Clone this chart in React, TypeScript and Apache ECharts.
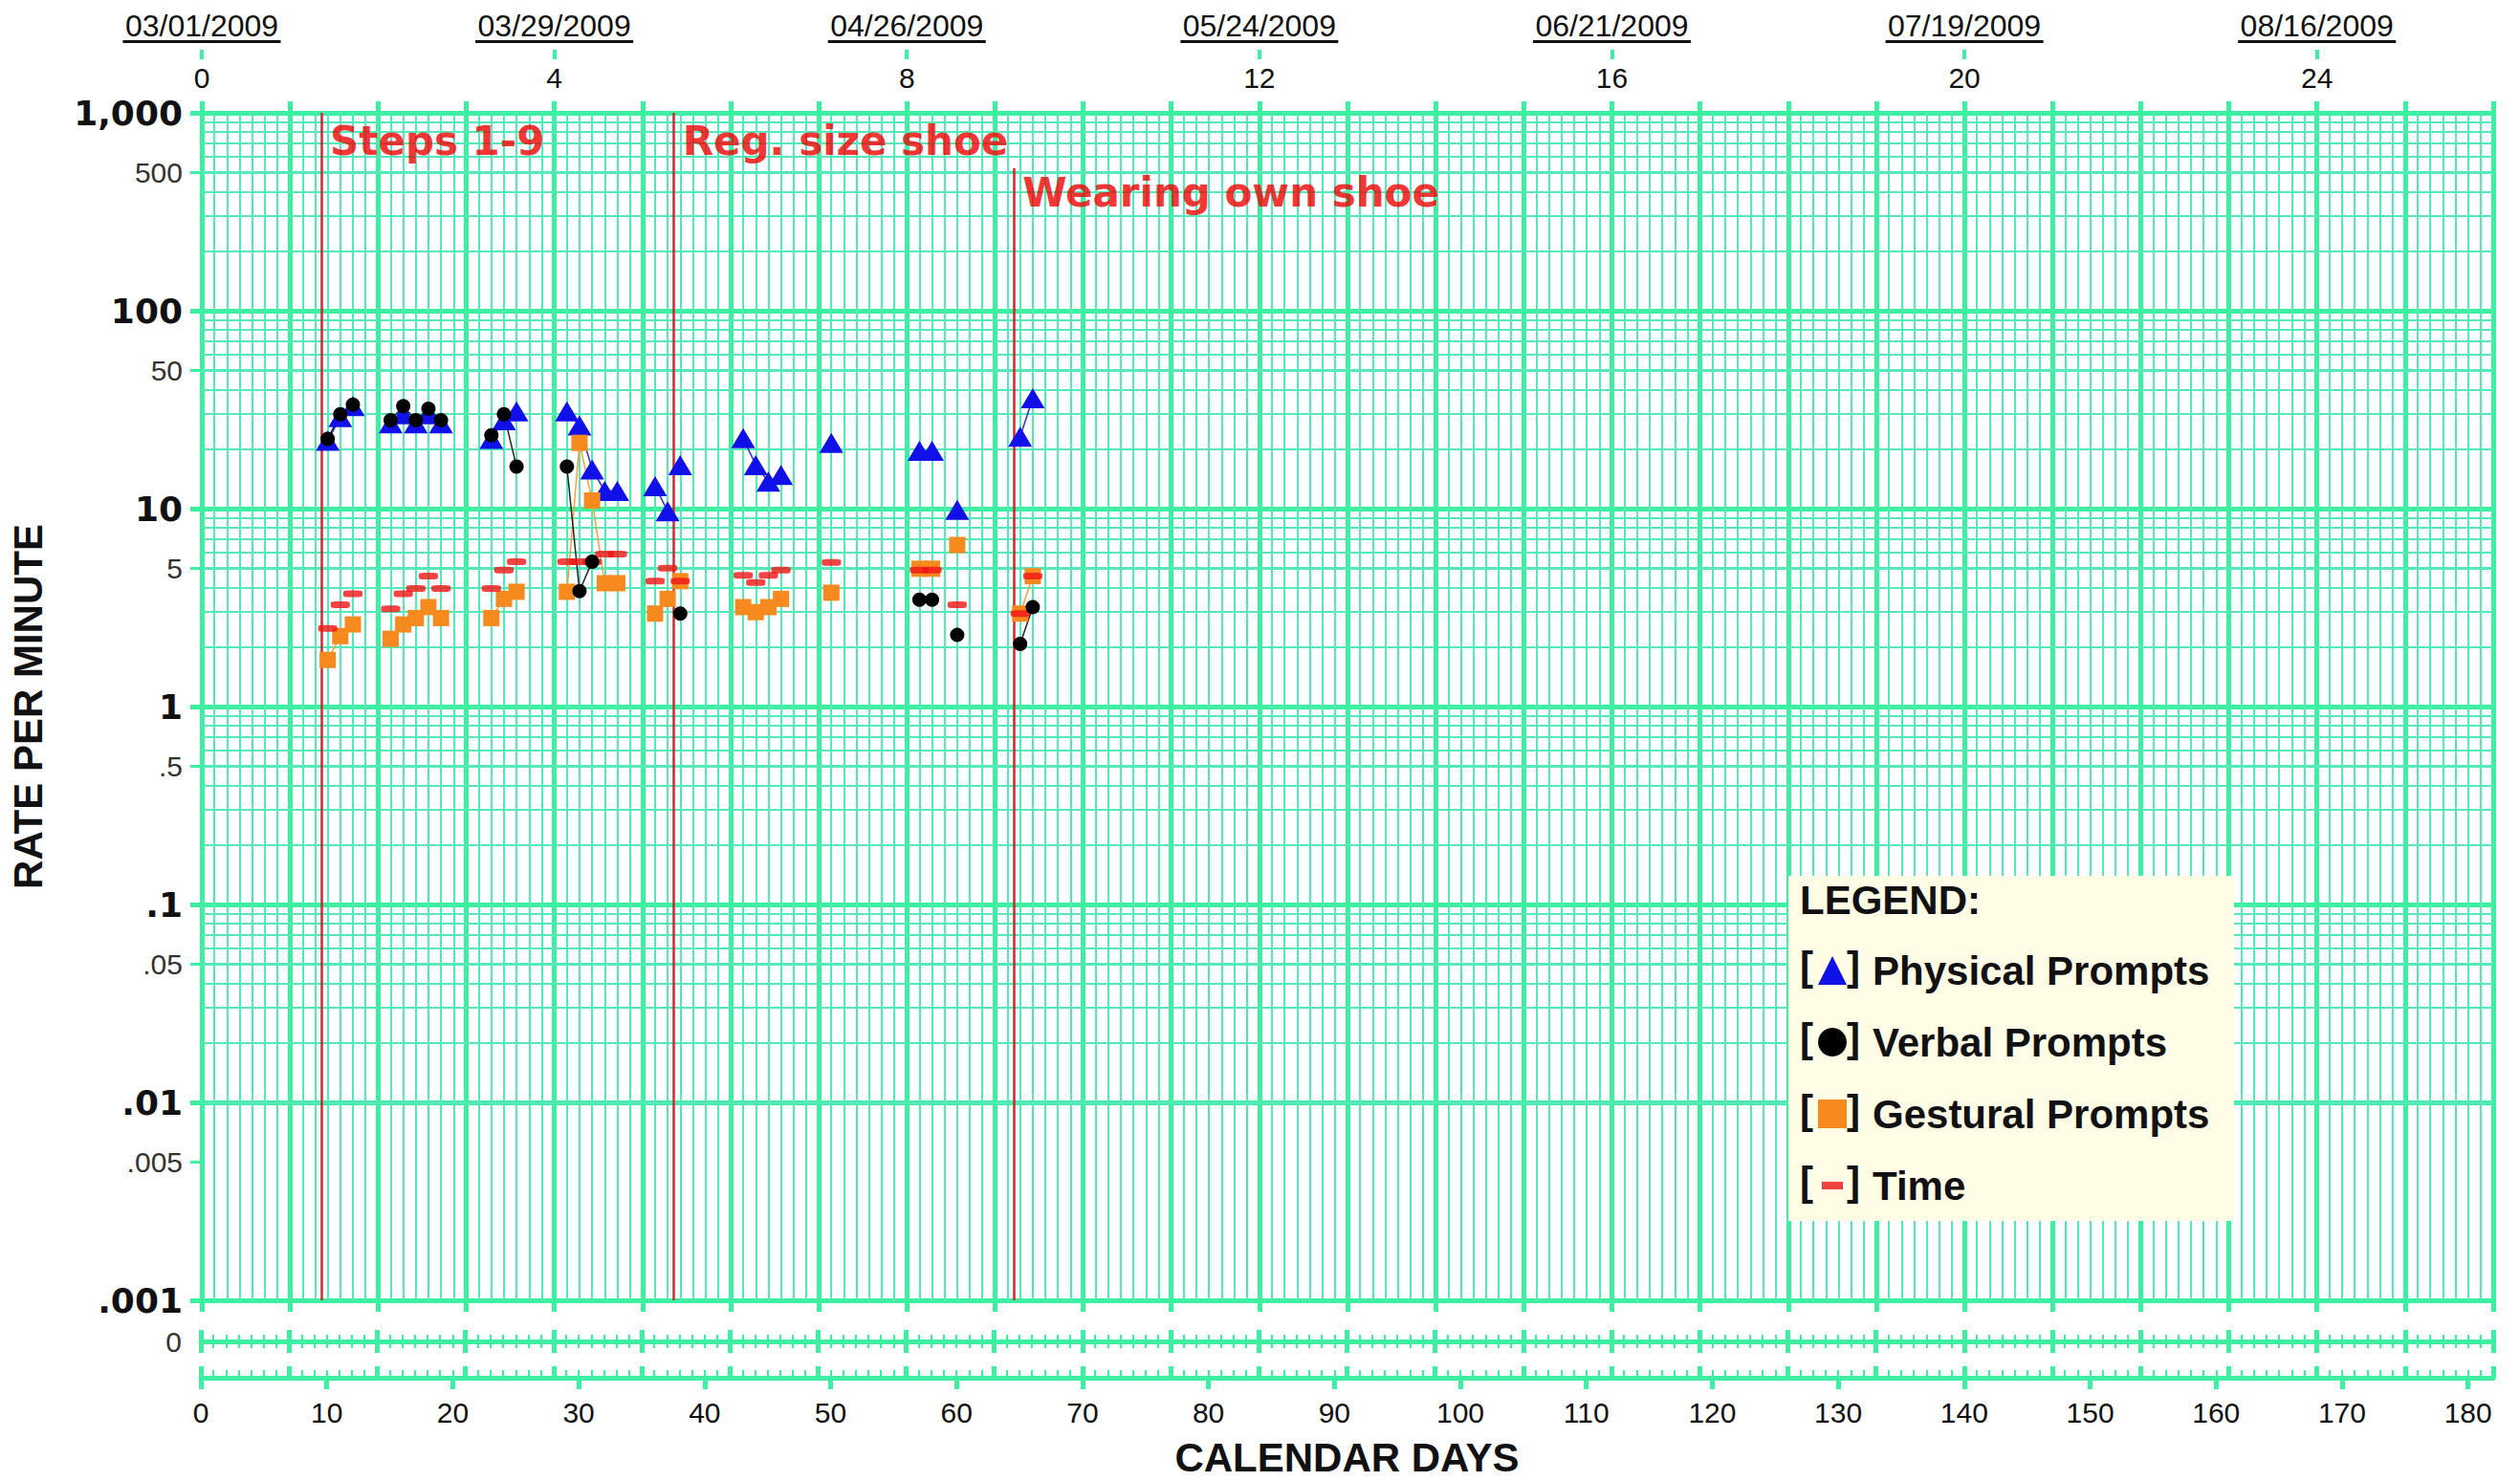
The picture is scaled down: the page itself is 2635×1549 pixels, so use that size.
import React, { useEffect, useRef } from 'react';
import * as echarts from 'echarts';

// ---- data ----
const days = [10, 11, 12, 15, 16, 17, 18, 19, 23, 24, 25, 29, 30, 31, 32, 33, 36, 37, 38, 43, 44, 45, 46, 50, 57, 58, 60, 65, 66];
const physical = [22, 29, 33, 27, 30, 27, 30, 27, 22.5, 28, 31, 31, 26.3, 15.8, 12.3, 12.3, 13, 9.7, 16.6, 22.7, 16.6, 13.7, 14.8, 21.5, 19.6, 19.6, 9.87, 23.1, 36.1];
const verbal = [22.5, 30, 33.5, 28, 33, 28, 32, 28, 23.5, 30, 16.3, 16.3, 3.83, 5.4, null, null, null, null, 2.95, null, null, null, null, null, 3.47, 3.47, 2.3, 2.07, 3.18];
const gestural = [1.72, 2.27, 2.6, 2.2, 2.6, 2.8, 3.18, 2.8, 2.8, 3.5, 3.8, 3.8, 21.5, 11, 4.2, 4.2, 2.95, 3.5, 4.3, 3.18, 3.0, 3.18, 3.5, 3.76, 4.97, 4.97, 6.55, 2.95, 4.56];
const time = [2.48, 3.27, 3.72, 3.12, 3.72, 3.95, 4.57, 3.95, 3.95, 4.9, 5.4, 5.4, 5.4, 5.4, 5.9, 5.9, 4.3, 5.0, 4.3, 4.6, 4.24, 4.6, 4.9, 5.35, 4.9, 4.9, 3.27, 2.95, 4.56];

const phaseDays = [9.5, 37.5, 64.5];
const phaseNames = ['Steps 1-9', 'Reg. size shoe', 'Wearing own shoe'];

const seriesNames = ['Physical Prompts', 'Verbal Prompts', 'Gestural Prompts', 'Time'];

// ---- tick labels ----
const decadeLabels = ['.001', '.01', '.1', '1', '10', '100', '1,000'];
const halfLabels = ['.005', '.05', '.5', '5', '50', '500'];
const weekLabels = ['0', '4', '8', '12', '16', '20', '24'];
const dateLabels = ['03/01/2009', '03/29/2009', '04/26/2009', '05/24/2009', '06/21/2009', '07/19/2009', '08/16/2009'];
const dateTickDays = [0, 28, 56, 84, 112, 140, 168];
const dayTickLabels = [0, 10, 20, 30, 40, 50, 60, 70, 80, 90, 100, 110, 120, 130, 140, 150, 160, 170, 180];

const G = '#3DEFA0';
const GM = '#55E8B8';
const SANS = 'Liberation Sans, Arial, sans-serif';
const DV = 'DejaVu Sans, Verdana, sans-serif';

function lineData(vals: (number | null)[]) {
  const out: any[] = [];
  for (let i = 0; i < days.length; i++) {
    const v = vals[i];
    if (v == null) continue;
    if (out.length) {
      const pd = days[i - 1];
      const pv = vals[i - 1];
      const crossed = phaseDays.some((p) => p > pd && p < days[i]);
      if (pv == null || days[i] - pd > 1 || crossed) out.push([(pd + days[i]) / 2, '-']);
    }
    out.push([days[i], v]);
  }
  return out;
}

function buildOption(): any {
  const minorLines: any[] = [];
  for (let d = -3; d < 3; d++) {
    for (let k = 2; k <= 9; k++) {
      minorLines.push({ yAxis: k * Math.pow(10, d), lineStyle: { width: k === 5 ? 3 : 2 } });
    }
  }
  const halfVals = halfLabels.map((s) => Math.log10(parseFloat(s)));

  const xBase = {
    type: 'value', min: 0, max: 182,
    axisLine: { show: false, onZero: false },
    axisTick: { show: false },
    axisLabel: { show: false },
    splitLine: { show: false },
  };
  const tick = (len: number, w: number, inside = false, extra: any = {}) => ({
    show: true, inside, length: len, lineStyle: { color: G, width: w }, ...extra,
  });

  const L = 210, W = 2397;

  const legendY0 = 1010, legendStep = 75;
  const brackets: any[] = [];
  for (let i = 0; i < 4; i++) {
    brackets.push({ type: 'text', x: 1882, y: legendY0 + i * legendStep, z: 5, style: { text: '[', font: `bold 42px ${SANS}`, fill: '#111', verticalAlign: 'middle' } });
    brackets.push({ type: 'text', x: 1931, y: legendY0 + i * legendStep, z: 5, style: { text: ']', font: `bold 42px ${SANS}`, fill: '#111', verticalAlign: 'middle' } });
  }

  return {
    animation: false,
    backgroundColor: '#ffffff',
    grid: [
      { left: L, top: 118, width: W, height: 1242 },
      { left: L, top: 1403, width: W, height: 38 },
    ],
    xAxis: [
      // 0: day grid lines
      { ...xBase, gridIndex: 0, position: 'bottom', interval: 1, splitLine: { show: true, lineStyle: { color: GM, width: 2 } } },
      // 1: week grid lines + ticks below
      { ...xBase, gridIndex: 0, position: 'bottom', interval: 7, splitLine: { show: true, lineStyle: { color: G, width: 5 } }, axisTick: tick(12, 5) },
      // 2: top week ticks + week numbers
      {
        ...xBase, gridIndex: 0, position: 'top', interval: 7, axisTick: tick(12, 5),
        axisLabel: { show: true, margin: 22, fontSize: 30, fontFamily: SANS, color: '#111', formatter: (v: number) => (v % 28 === 0 ? weekLabels[v / 28] : '') },
      },
      // 3: dates
      {
        ...xBase, gridIndex: 0, position: 'top', offset: 56, interval: 28,
        axisTick: tick(10, 4, false, { customValues: dateTickDays }),
        axisLabel: {
          show: true, margin: 17, customValues: dateTickDays,
          formatter: (v: number) => {
            const i = Math.round(v / 28);
            return v % 28 === 0 && dateLabels[i] ? `{d|${dateLabels[i]}}\n{u| }` : '';
          },
          rich: {
            d: { fontSize: 32, fontFamily: SANS, color: '#111', lineHeight: 30 },
            u: { width: 165, height: 3, lineHeight: 3, backgroundColor: '#111', fontSize: 2 },
          },
        },
      },
      // 4..7: the zero row line with ticks both sides
      { ...xBase, gridIndex: 1, position: 'top', interval: 1, axisLine: { show: true, onZero: false, lineStyle: { color: G, width: 5 } }, axisTick: tick(7, 2) },
      { ...xBase, gridIndex: 1, position: 'top', interval: 1, axisTick: tick(7, 2, true) },
      { ...xBase, gridIndex: 1, position: 'top', interval: 7, axisTick: tick(12, 5) },
      { ...xBase, gridIndex: 1, position: 'top', interval: 7, axisTick: tick(12, 5, true) },
      // 8..10: bottom calendar-day axis
      { ...xBase, gridIndex: 1, position: 'bottom', interval: 1, axisLine: { show: true, onZero: false, lineStyle: { color: G, width: 5 } }, axisTick: tick(8, 2, true) },
      { ...xBase, gridIndex: 1, position: 'bottom', interval: 7, axisTick: tick(12, 5, true) },
      {
        ...xBase, gridIndex: 1, position: 'bottom', interval: 10,
        axisTick: tick(12, 5, false, { customValues: dayTickLabels }),
        axisLabel: { show: true, customValues: dayTickLabels, margin: 21, fontSize: 30, fontFamily: SANS, color: '#111', formatter: (v: number) => (v % 10 === 0 && v <= 180 ? String(v) : '') },
        name: 'CALENDAR DAYS', nameLocation: 'middle', nameGap: 62,
        nameTextStyle: { fontFamily: SANS, fontWeight: 'bold', fontSize: 42, color: '#111' },
      },
    ],
    yAxis: [
      {
        type: 'log', logBase: 10, gridIndex: 0, min: 0.001, max: 1000, position: 'left',
        axisLine: { show: false, onZero: false },
        axisTick: tick(12, 5),
        splitLine: { show: true, lineStyle: { color: G, width: 5 } },
        axisLabel: {
          margin: 20, fontFamily: DV, fontWeight: 'bold', fontSize: 36, color: '#111',
          formatter: (v: number) => decadeLabels[Math.round(Math.log10(v)) + 3] || '',
        },
        name: 'RATE PER MINUTE', nameLocation: 'middle', nameRotate: 90, nameGap: 161,
        nameTextStyle: { fontFamily: SANS, fontWeight: 'bold', fontSize: 42, color: '#111' },
      },
      {
        type: 'value', gridIndex: 0, min: -3, max: 3, position: 'left',
        axisLine: { show: false, onZero: false },
        axisTick: tick(12, 3, false, { customValues: halfVals }),
        splitLine: { show: false },
        axisLabel: {
          customValues: halfVals, margin: 20, fontFamily: SANS, fontSize: 30, color: '#333',
          formatter: (v: number) => halfLabels[Math.round(v + 2.30103)] || '',
        },
      },
      {
        type: 'value', gridIndex: 1, min: 0, max: 1, inverse: true, interval: 1, position: 'left',
        axisLine: { show: false, onZero: false }, axisTick: { show: false }, splitLine: { show: false },
        axisLabel: { margin: 20, fontFamily: SANS, fontSize: 30, color: '#333', formatter: (v: number) => (v === 0 ? '0' : '') },
      },
    ],
    legend: {
      data: [
        { name: seriesNames[0], icon: 'triangle' },
        { name: seriesNames[1], icon: 'circle' },
        { name: seriesNames[2], icon: 'rect' },
        { name: seriesNames[3], icon: 'path://M0,0L30,0L30,0.01L0,0.01Z M0,29.99L30,29.99L30,30L0,30Z M4,11L26,11L26,19L4,19Z' },
      ],
      orient: 'vertical', left: 1896, top: 989, itemWidth: 30, itemHeight: 30, itemGap: 33,
      selectedMode: false, z: 6,
      itemStyle: { borderWidth: 0 },
      textStyle: { fontFamily: SANS, fontWeight: 'bold', fontSize: 42, color: '#111', lineHeight: 30, padding: [0, 0, 0, 22] },
    },
    graphic: {
      elements: [
        { type: 'rect', z: 3, shape: { x: 1870, y: 916, width: 466, height: 361 }, style: { fill: '#FFFDE6' } },
        { type: 'text', z: 5, x: 1882, y: 941, style: { text: 'LEGEND:', font: `bold 42px ${SANS}`, fill: '#111', verticalAlign: 'middle' } },
        ...brackets,
      ],
    },
    series: [
      {
        name: seriesNames[0], type: 'line', xAxisIndex: 0, yAxisIndex: 0, z: 2,
        data: lineData(physical), symbol: 'triangle', symbolSize: [25, 21], showSymbol: true,
        itemStyle: { color: '#1010E8' }, lineStyle: { color: '#2A2AD8', width: 1.5 },
        markLine: {
          silent: true, symbol: ['none', 'none'], z: 1, animation: false,
          label: { show: false }, lineStyle: { type: 'solid', color: GM, width: 2 },
          data: minorLines,
        },
      },
      {
        name: seriesNames[2], type: 'line', xAxisIndex: 0, yAxisIndex: 0, z: 2,
        data: lineData(gestural), symbol: 'rect', symbolSize: 17,
        itemStyle: { color: '#F78A1E' }, lineStyle: { color: '#F5A040', width: 1.5 },
        markLine: {
          silent: true, symbol: ['none', 'none'], z: 1, animation: false,
          label: { show: false }, lineStyle: { type: 'solid', color: '#D02828', width: 2.5 },
          data: [
            { xAxis: phaseDays[0] },
            { xAxis: phaseDays[1] },
            [{ coord: [phaseDays[2], 525] }, { coord: [phaseDays[2], 0.001] }],
          ],
        },
      },
      {
        name: seriesNames[3], type: 'scatter', xAxisIndex: 0, yAxisIndex: 0, z: 2,
        data: days.map((d, i) => [d, time[i]]), symbol: 'roundRect', symbolSize: [20, 7],
        itemStyle: { color: '#F01414' },
      },
      {
        name: seriesNames[1], type: 'line', xAxisIndex: 0, yAxisIndex: 0, z: 2,
        data: lineData(verbal), symbol: 'circle', symbolSize: 15,
        itemStyle: { color: '#000000' }, lineStyle: { color: '#222222', width: 1.5 },
      },
      {
        name: 'phase', type: 'scatter', xAxisIndex: 0, yAxisIndex: 0, z: 3, silent: true,
        symbolSize: 0, itemStyle: { color: 'rgba(0,0,0,0)' },
        data: phaseDays.map((d, i) => ({ value: [d, i < 2 ? 720 : 395], name: phaseNames[i] })),
        label: {
          show: true, position: 'right', distance: 9, formatter: (p: any) => p.name,
          color: '#F00000', fontFamily: DV, fontWeight: 'bold', fontSize: 42,
        },
      },
    ],
  };
}

export default function App() {
  const ref = useRef<HTMLDivElement>(null);
  useEffect(() => {
    if (!ref.current) return;
    const chart = echarts.init(ref.current, null, { renderer: 'svg' });
    chart.setOption(buildOption());
    return () => chart.dispose();
  }, []);
  return (
    <div
      ref={ref}
      style={{ position: 'fixed', left: 0, top: 0, width: 2635, height: 1549, background: '#ffffff' }}
    />
  );
}
